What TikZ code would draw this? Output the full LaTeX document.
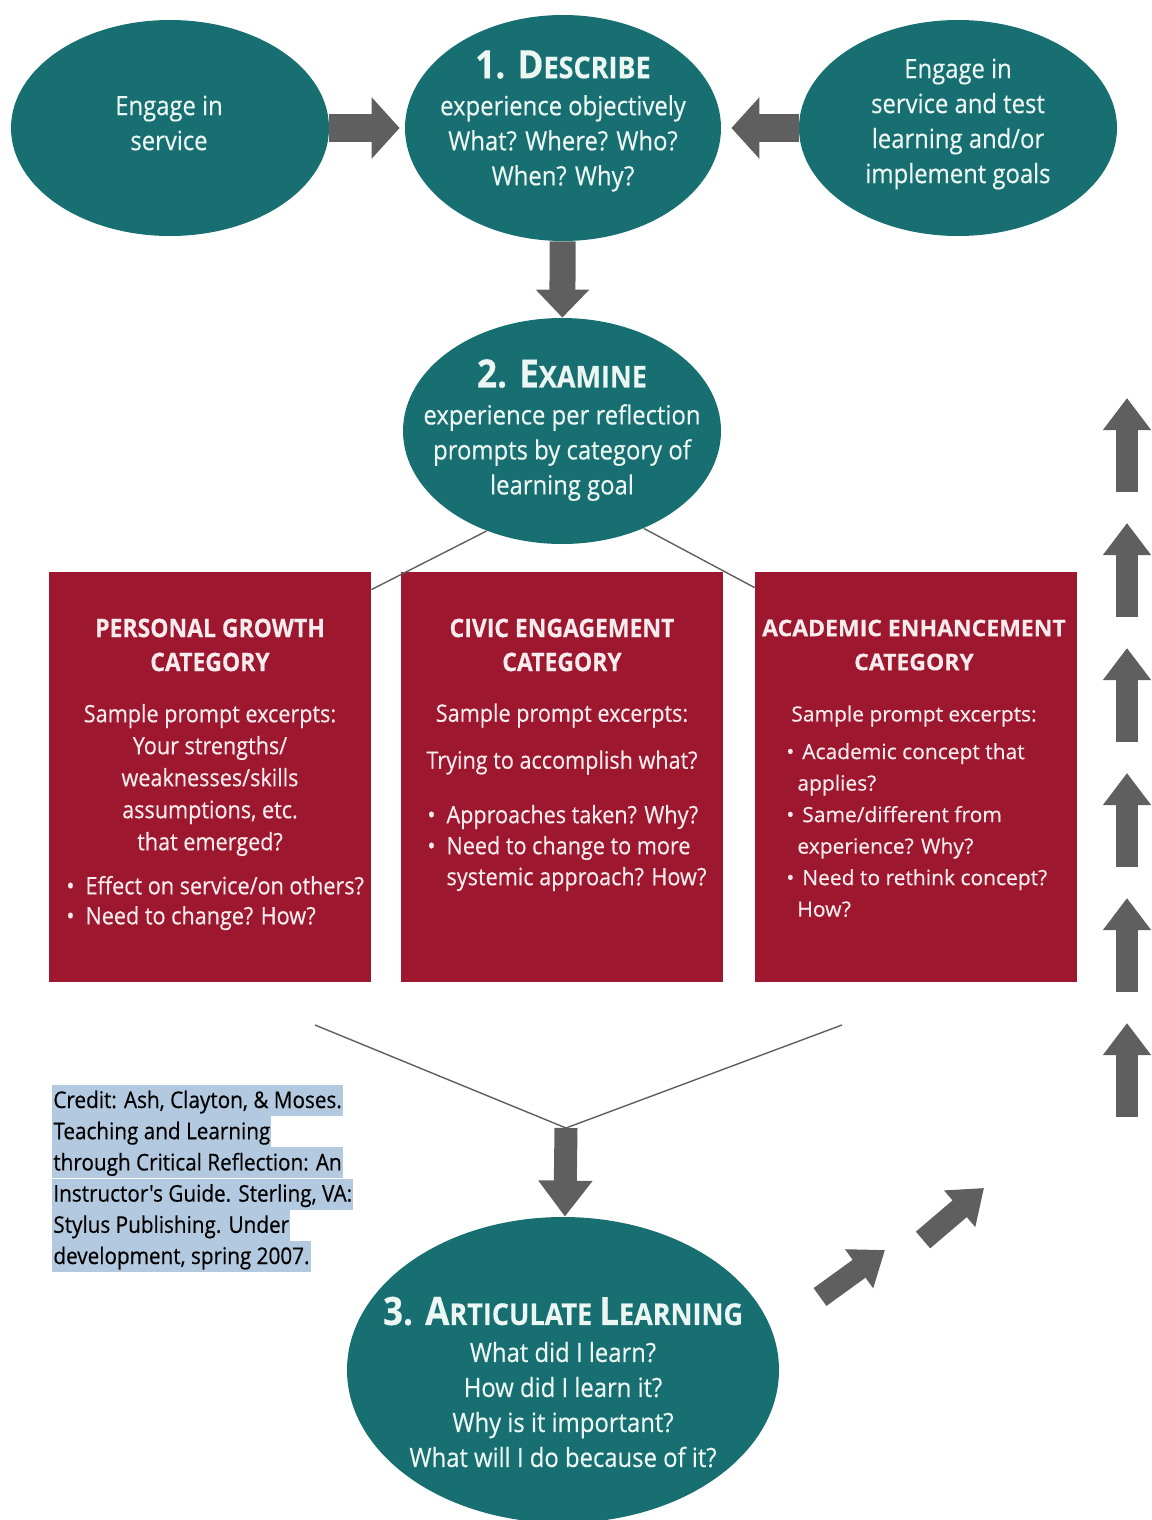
\documentclass[tikz,border=0pt]{standalone}
\usepackage{fontspec}
\setmainfont{Open Sans}
\IfFontExistsTF{Open Sans SemiBold}{
  \newfontfamily\narrowfont[FakeStretch=0.87, BoldFont={Open Sans/B}]{Open Sans SemiBold}
  \newfontfamily\widefont[BoldFont={Open Sans/B}]{Open Sans SemiBold}
}{
  \newfontfamily\narrowfont[FakeStretch=0.9, FakeBold=0.4]{Open Sans}
  \newfontfamily\widefont[FakeBold=0.4]{Open Sans}
}
\usetikzlibrary{shapes.geometric, arrows.meta, calc}

\definecolor{stageteal}{RGB}{24,111,114}
\definecolor{catred}{RGB}{157,23,47}
\definecolor{arrowgray}{RGB}{95,95,95}
\definecolor{paletext}{RGB}{236,246,242}
\definecolor{pinktext}{RGB}{250,236,238}
\definecolor{credithl}{RGB}{178,201,224}

\newcommand{\bigletters}[1]{{\bfseries\fontsize{39}{40}\selectfont #1}}
\newcommand{\smallletters}[1]{{\bfseries\fontsize{30}{40}\selectfont #1}}
\newcommand{\dotitem}{\textbullet\hspace{11pt}}

\begin{document}
\begin{tikzpicture}[x=1pt, y=-1pt, thick]
  \tikzset{
    stage/.style={ellipse, fill=stageteal, inner sep=0pt},
    stagetext/.style={text=paletext, align=center, inner sep=0pt,
      font=\narrowfont\fontsize{26.5}{35}\selectfont},
    catbox/.style={rectangle, fill=catred, minimum width=322pt,
      minimum height=410pt, inner sep=0pt},
    cattext/.style={text=pinktext, align=center, inner sep=0pt,
      font=\narrowfont\fontsize{24}{32}\selectfont},
    acadtext/.style={text=pinktext, align=center, inner sep=0pt,
      font=\widefont\fontsize{21}{31.5}\selectfont},
    bigarrow/.style={draw=arrowgray, line width=28pt,
      -{Triangle[length=28pt, width=60pt]}},
    smallarrow/.style={draw=arrowgray, line width=22pt,
      -{Triangle[length=32pt, width=46pt]}},
    link/.style={draw=arrowgray, line width=1.4pt},
    creditline/.style={fill=credithl, anchor=base west, inner xsep=1pt,
      inner ysep=0pt, text height=23pt, text depth=8pt,
      font=\narrowfont\fontsize{23}{31}\selectfont}
  }
  \useasboundingbox (0,0) rectangle (1151,1520);

  % Stages
  \node [stage, minimum width=318pt, minimum height=216pt] (serve) at (170,128) {};
  \node [stage, minimum width=316pt, minimum height=226pt] (describe) at (563,128) {};
  \node [stage, minimum width=318pt, minimum height=216pt] (retest) at (958,128) {};
  \node [stage, minimum width=318pt, minimum height=226pt] (examine) at (562,431) {};
  \node [stage, minimum width=432pt, minimum height=306pt] (articulate) at (563,1370) {};

  \node [stagetext] (serve-text) at (169,123) {Engage in\\service};
  \node [stagetext] (describe-text) at (563,121)
    {\bigletters{1. D}\smallletters{ESCRIBE}\\[2pt]
     experience objectively\\What? Where? Who?\\When? Why?};
  \node [stagetext] (retest-text) at (958,124)
    {Engage in\\service and test\\learning and/or\\implement goals};
  \node [stagetext] (examine-text) at (562,430)
    {\bigletters{2. E}\smallletters{XAMINE}\\[2pt]
     experience per reflection\\prompts by category of\\learning goal};
  \node [stagetext] (articulate-text) at (563,1382)
    {\bigletters{3. A}\smallletters{RTICULATE }\bigletters{L}\smallletters{EARNING}\\[2pt]
     What did I learn?\\How did I learn it?\\Why is it important?\\What will I do because of it?};

  % Categories
  \node [catbox] (personal) at (210,777) {};
  \node [catbox] (civic) at (562,777) {};
  \node [catbox] (academic) at (916,777) {};

  \node [cattext, font=\narrowfont\bfseries\fontsize{25.5}{34}\selectfont] (personal-title) at (210,645)
    {PERSONAL GROWTH\\CATEGORY};
  \node [cattext] (personal-prompts) at (210,780)
    {Sample prompt excerpts:\\Your strengths/\\weaknesses/skills\\assumptions, etc.\\that emerged?};
  \node [cattext, align=left, anchor=west, font=\narrowfont\fontsize{24}{30}\selectfont] (personal-list) at (66,903)
    {\dotitem Effect on service/on others?\\\dotitem Need to change? How?};

  \node [cattext, font=\narrowfont\bfseries\fontsize{25.5}{34}\selectfont] (civic-title) at (562,645)
    {CIVIC ENGAGEMENT\\CATEGORY};
  \node [cattext] (civic-prompts) at (562,739)
    {Sample prompt excerpts:\\[15pt]Trying to accomplish what?};
  \node [cattext, align=left, anchor=west, font=\narrowfont\fontsize{24}{31}\selectfont] (civic-list) at (427,848)
    {\dotitem Approaches taken? Why?\\\dotitem Need to change to more\\
     \hphantom{\dotitem}systemic approach? How?};

  \node [acadtext, font=\widefont\bfseries\fontsize{23}{34}\selectfont] (academic-title) at (914,645)
    {ACADEMIC ENHANCEMENT\\CATEGORY};
  \node [acadtext] (academic-prompts) at (914,716) {Sample prompt excerpts:};
  \node [acadtext, align=left, anchor=west] (academic-list) at (786,830)
    {\textbullet\hspace{8pt}Academic concept that\\\hspace{11pt}applies?\\
     \textbullet\hspace{8pt}Same/different from\\\hspace{11pt}experience? Why?\\
     \textbullet\hspace{8pt}Need to rethink concept?\\\hspace{11pt}How?};

  % Credit
  \foreach \i/\t in {0/{Credit: Ash, Clayton, \& Moses.}, 1/{Teaching and Learning},
      2/{through Critical Reflection: An}, 3/{Instructor's Guide. Sterling, VA:},
      4/{Stylus Publishing. Under}, 5/{development, spring 2007.}} {
    \node [creditline] (credit-\i) at (52,{1108 + \i*31.2}) {\t};
  }

  % Edges
  \draw [bigarrow, shorten >=5pt] (serve) -- (describe);
  \draw [bigarrow, shorten >=10pt] (retest) -- (describe);
  \draw [bigarrow, line width=26pt, -{Triangle[length=28pt, width=52pt]}] (describe) -- (examine);

  \draw [link] (examine.233) -- ($(personal.north east)+(0,18)$);
  \draw [link] (examine.310) -- ($(academic.north west)+(0,16)$);

  \coordinate (vleft) at (315,1025);
  \coordinate (vright) at (842,1025);
  \coordinate (vjoin) at (566,1128);
  \draw [link] (vleft) -- (vjoin) -- (vright);
  \draw [bigarrow, line width=23pt, -{Triangle[length=36pt, width=52pt]}] (vjoin) -- (articulate);

  % Way back up
  \foreach \i/\x/\y/\u/\v in {0/820/1297/885/1250, 1/923/1240/984/1188} {
    \coordinate (diag\i-tail) at (\x,\y);
    \coordinate (diag\i-tip) at (\u,\v);
    \draw [smallarrow] (diag\i-tail) -- (diag\i-tip);
  }
  \foreach \i in {0, 1, ..., 5} {
    \coordinate (up\i-tail) at (1127, {492 + \i*125});
    \coordinate (up\i-tip) at (1127, {398 + \i*125});
    \draw [smallarrow] (up\i-tail) -- (up\i-tip);
  }
\end{tikzpicture}
\end{document}
